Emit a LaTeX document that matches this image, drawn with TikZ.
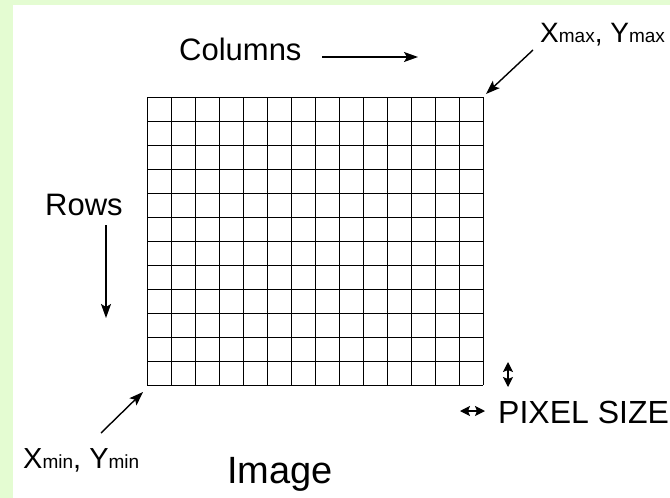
\documentclass[tikz,border=0pt]{standalone}
\usepackage{fontspec}
\setmainfont{Liberation Sans}
\usetikzlibrary{arrows.meta,positioning}

\definecolor{paleGreen}{RGB}{228,252,210}
\newcommand{\smallsub}[1]{{\fontsize{19}{19}\selectfont #1}}

\begin{document}
\begin{tikzpicture}[x=1pt,y=-1pt]
            \tikzset{every node/.style={inner sep=0pt, anchor=base west},
                     lbl/.style={font=\fontsize{31}{36}\selectfont},
                     arr/.style={-{Stealth[length=14pt,width=10pt,inset=3pt]}, line width=1.4pt},
                     tiny/.style={{Stealth[length=10pt,width=10pt,inset=2pt]}-{Stealth[length=10pt,width=10pt,inset=2pt]}, line width=1.3pt}}
            \useasboundingbox (0,0) rectangle (670,498);
            \fill[paleGreen] (0,0) rectangle (670,498);
            \fill[white] (13,5) rectangle (670,498);
            % the image grid: 14 columns, 12 rows
            \foreach \i in {0,...,14}
                \draw[line width=1pt] (147+24*\i,97) -- (147+24*\i,385);
            \foreach \j in {0,...,12}
                \draw[line width=1pt] (147,97+24*\j) -- (483,97+24*\j);
            \coordinate (ne) at (486,94);
            \coordinate (sw) at (143,392);
            % labels
            \node[lbl] (cols) at (179,60) {Columns};
            \node[font=\fontsize{28}{34}\selectfont] (xmax) at (540,42) {X\smallsub{max}, Y\smallsub{max}};
            \node[lbl] (rows) at (45,215) {Rows};
            \node[font=\fontsize{29}{34}\selectfont] (xmin) at (23,468) {X\smallsub{min}, Y\smallsub{min}};
            \node[font=\fontsize{38}{44}\selectfont] (img) at (227,483) {Image};
            \node[font=\fontsize{32}{36}\selectfont] (pix) at (498,423) {PIXEL SIZE};
            % arrows
            \coordinate (c1) at (322,57);
            \coordinate (c2) at (418,57);
            \draw[arr] (c1) -- (c2);
            \coordinate (r1) at (106,225);
            \coordinate (r2) at (106,318);
            \draw[arr] (r1) -- (r2);
            \coordinate (xa) at (533,50);
            \draw[arr] (xa) -- (ne);
            \coordinate (xb) at (101,433);
            \draw[arr] (xb) -- (sw);
            \coordinate (v1) at (508,362);
            \coordinate (v2) at (508,387);
            \draw[tiny] (v1) -- (v2);
            \coordinate (h1) at (460,411);
            \coordinate (h2) at (485,411);
            \draw[tiny] (h1) -- (h2);
        \end{tikzpicture}
\end{document}
